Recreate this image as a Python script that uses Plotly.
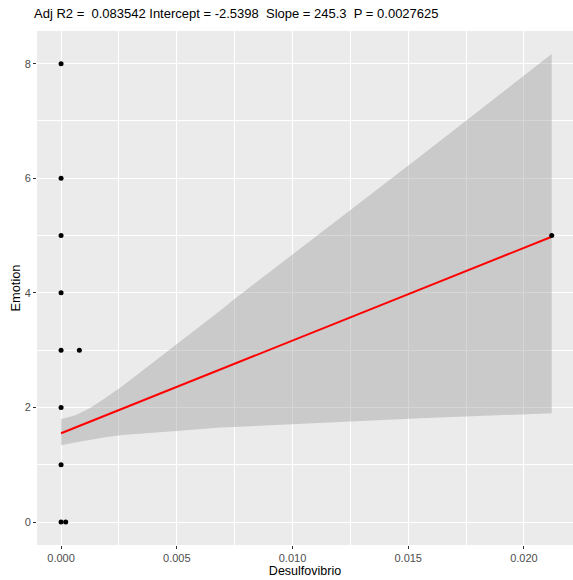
import plotly.graph_objects as go

# Scatter points (Desulfovibrio, Emotion)
pt_x = [0, 0, 0, 0, 0, 0, 0, 0, 0.0002, 0.00079, 0.0212]
pt_y = [8, 6, 5, 4, 3, 2, 1, 0, 0, 3, 5]

# Fitted line endpoints
fit_x = [0, 0.0212]
fit_y = [1.55, 4.98]

# Confidence band
band_x = [0, 0.0006, 0.00125, 0.0019, 0.00264, 0.005, 0.00687, 0.00752, 0.01003, 0.01379, 0.01551, 0.0212]
band_hi = [1.80, 1.86, 1.99, 2.16, 2.37, 3.10, 3.69, 3.90, 4.68, 5.85, 6.38, 8.17]
band_lo = [1.34, 1.39, 1.44, 1.48, 1.52, 1.59, 1.65, 1.67, 1.71, 1.78, 1.81, 1.90]

x_ticks = [0, 0.005, 0.010, 0.015, 0.020]
x_labels = ["0.000", "0.005", "0.010", "0.015", "0.020"]
y_ticks = [0, 2, 4, 6, 8]

title_text = "Adj R2 =  0.083542 Intercept = -2.5398  Slope = 245.3  P = 0.0027625"

fig = go.Figure()
fig.add_trace(go.Scatter(x=band_x + band_x[::-1], y=band_hi + band_lo[::-1],
                         fill="toself", fillcolor="rgba(153,153,153,0.4)",
                         line=dict(width=0), mode="lines", hoverinfo="skip"))
fig.add_trace(go.Scatter(x=fit_x, y=fit_y, mode="lines",
                         line=dict(color="#FF0000", width=2)))
fig.add_trace(go.Scatter(x=pt_x, y=pt_y, mode="markers",
                         marker=dict(color="black", size=5)))

axis_common = dict(
    showgrid=True, gridcolor="white", gridwidth=1.1, zeroline=False,
    ticks="outside", ticklen=3, tickcolor="#333333", tickwidth=1,
    tickfont=dict(family="Liberation Sans, Arial", size=11, color="#4D4D4D"),
    showline=False,
)

fig.update_layout(
    width=573, height=580,
    margin=dict(l=37, r=0, t=31, b=35),
    paper_bgcolor="white", plot_bgcolor="#EBEBEB",
    showlegend=False,
    font=dict(family="Liberation Sans, Arial", color="black"),
    title=dict(text=title_text, xref="container", yref="container",
               x=34/573, xanchor="left", y=1-13/580, yanchor="middle",
               font=dict(size=13, color="black")),
    xaxis=dict(range=[-0.00104, 0.02212], tickvals=x_ticks, ticktext=x_labels,
               title=dict(text="Desulfovibrio", font=dict(size=12.5, color="black"), standoff=2),
               minor=dict(dtick=0.005, tick0=0.0025, showgrid=True, gridcolor="white", gridwidth=0.55, ticks=""),
               **axis_common),
    yaxis=dict(range=[-0.40, 8.57], tickvals=y_ticks,
               title=dict(text="Emotion", font=dict(size=12.8, color="black"), standoff=1),
               minor=dict(dtick=1, tick0=1, showgrid=True, gridcolor="white", gridwidth=0.55, ticks=""),
               **axis_common),
)

fig.write_html("out.html")
